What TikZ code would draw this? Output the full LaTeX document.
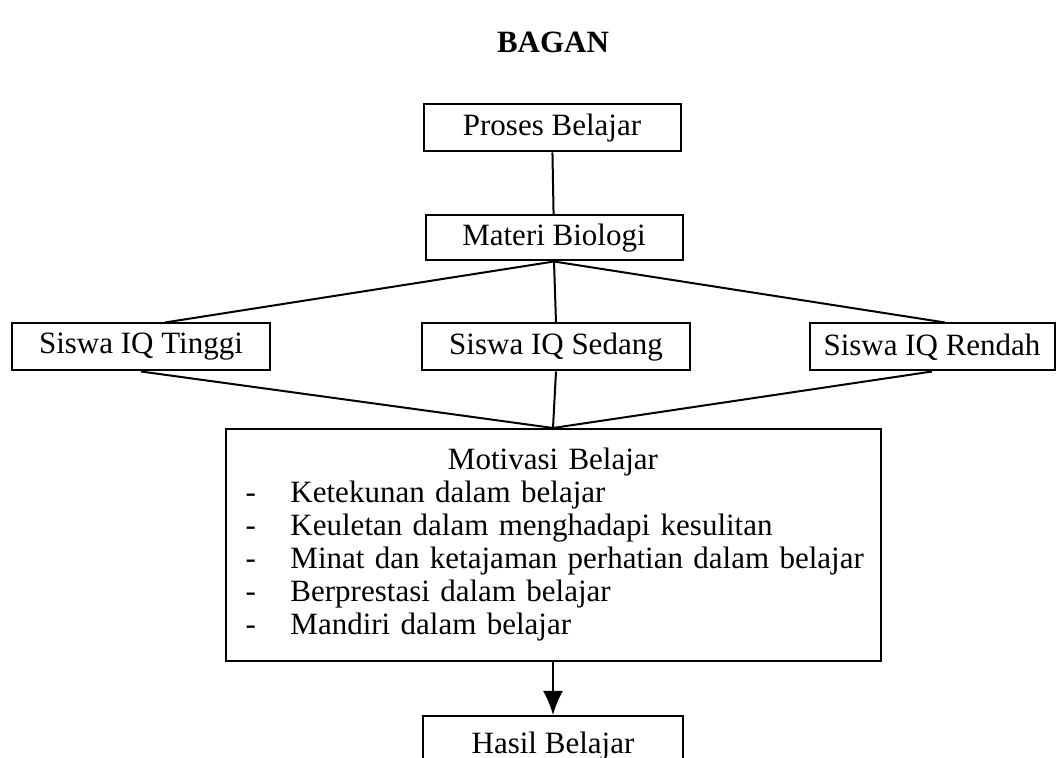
\documentclass[tikz,border=0pt]{standalone}
\usepackage{fontspec}
\setmainfont{Liberation Serif}
\usetikzlibrary{arrows.meta}

\begin{document}
\begin{tikzpicture}[x=0.5pt,y=-0.5pt,line width=1pt,>={Latex[length=12pt,width=10pt]},
		every node/.style={font=\fontsize{15.5}{16.5}\selectfont},
		kotak/.style={draw,minimum height=23.5pt,inner sep=0pt}]
			\useasboundingbox (0,0) rectangle (1061,758);
			\clip (0,0) rectangle (1061,758);
			\node[font=\fontsize{15.5}{16.5}\selectfont\bfseries] (judul) at (553,42) {BAGAN};
			\node[kotak,minimum width=128.5pt] (proses) at (552,128) {Proses Belajar};
			\node[kotak,minimum width=128.5pt,minimum height=22.5pt] (materi) at (554,238) {Materi Biologi};
			\foreach \n/\x/\w/\t in {tinggi/141/129pt/Tinggi, sedang/556/134pt/Sedang, rendah/932/122.5pt/Rendah}
			\node[kotak,minimum width=\w] (\n) at (\x,347) {Siswa IQ \t};
			\node[kotak,anchor=north,text width=327.5pt,minimum height=116pt,align=left] (motivasi) at (553,428) {%
				\makebox[\linewidth]{Motivasi Belajar}\\
				\hspace*{10pt}\makebox[22.5pt][l]{-}Ketekunan dalam belajar\\
				\hspace*{10pt}\makebox[22.5pt][l]{-}Keuletan dalam menghadapi kesulitan\\
				\hspace*{10pt}\makebox[22.5pt][l]{-}Minat dan ketajaman perhatian dalam belajar\\
				\hspace*{10pt}\makebox[22.5pt][l]{-}Berprestasi dalam belajar\\
				\hspace*{10pt}\makebox[22.5pt][l]{-}Mandiri dalam belajar};
			\node[kotak,anchor=north,minimum width=130pt,minimum height=30pt] (hasil) at (553,715) {Hasil Belajar};
			\draw (proses) -- (materi);
			\foreach \n/\s in {tinggi/12pt, sedang/0pt, rendah/6.5pt}{
				\draw (materi.south) -- ([xshift=\s]\n.north);
				\draw (\n.south) -- (motivasi.north);
			}
			\draw[->] (motivasi) -- (hasil);
		\end{tikzpicture}
\end{document}
